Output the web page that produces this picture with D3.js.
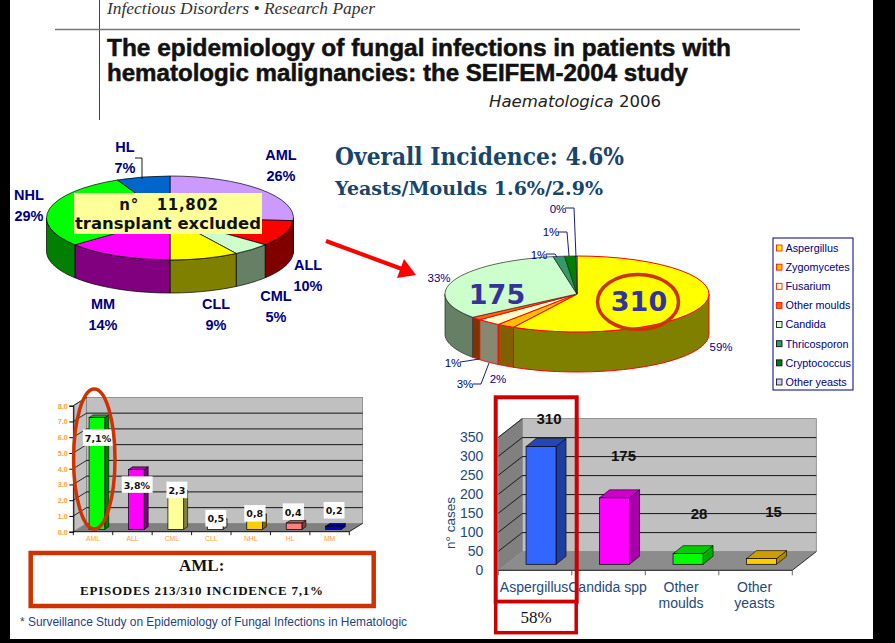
<!DOCTYPE html>
<html>
<head>
<meta charset="utf-8">
<title>SEIFEM-2004</title>
<script src="https://cdn.jsdelivr.net/npm/d3@7"></script>
<style>
  html, body { margin: 0; padding: 0; background: #fff; }
  svg { display: block; }
  text { font-family: "Liberation Sans", sans-serif; }
</style>
</head>
<body>
<svg id="chart" width="895" height="643"></svg>
<script>
// left pie: haematologic malignancies
var malignancies = ['AML', 'ALL', 'CML', 'CLL', 'MM', 'NHL', 'HL'];
var malignancyShare = [26, 10, 5, 9, 14, 29, 7];
var malignancyTop = ['#cc99ff', '#ff0000', '#ccffcc', '#ffff00', '#ff00ff', '#00ff00', '#0066cc'];
var malignancySide = ['#664d80', '#800000', '#668066', '#808000', '#800080', '#008000', '#003366'];

// right pie: fungal agents (drawn shares, printed labels separate)
var agents = ['Aspergillus', 'Zygomycetes', 'Fusarium', 'Other moulds', 'Candida', 'Thricosporon', 'Cryptococcus', 'Other yeasts'];
var agentShare = [58, 2.2, 3, 1.3, 32.6, 1.4, 1.4, 0.1];
var agentLabels = ['59%', '2%', '3%', '1%', '33%', '1%', '1%', '0%'];
var agentTop = ['#ffff00', '#ffc000', '#ffffcc', '#ff6600', '#ccffcc', '#339966', '#008000', '#ccccff'];
var agentSide = ['#808000', '#806000', '#888870', '#803300', '#668066', '#1a4d33', '#004000', '#666680'];

// left bars: incidence by malignancy
var incidenceCats = ['AML', 'ALL', 'CML', 'CLL', 'NHL', 'HL', 'MM'];
var incidenceVals = [7.1, 3.8, 2.3, 0.5, 0.8, 0.4, 0.2];
var incidenceText = ['7,1%', '3,8%', '2,3', '0,5', '0,8', '0,4', '0,2'];
var incidenceFront = ['#00ff00', '#ff00ff', '#ffff99', '#ffffff', '#ffcc00', '#ff8080', '#0000cc'];
var incidenceSide = ['#008000', '#800080', '#808040', '#808080', '#806600', '#804040', '#000080'];
var incidenceLid = ['#00b300', '#b300b3', '#cccc66', '#cccccc', '#cc9900', '#b35959', '#000099'];
var incidenceTicks = [0, 1, 2, 3, 4, 5, 6, 7, 8];

// right bars: number of cases
var caseCats = [['Aspergillus'], ['Candida spp'], ['Other', 'moulds'], ['Other', 'yeasts']];
var caseVals = [310, 175, 28, 15];
var caseFront = ['#3366ff', '#ff00ff', '#00ff00', '#ffcc00'];
var caseSide = ['#1f3fa0', '#a800a8', '#00aa00', '#aa8800'];
var caseLid = ['#2346b8', '#cc00cc', '#00cc00', '#cc9f00'];
var caseTicks = [0, 50, 100, 150, 200, 250, 300, 350];

var svg = d3.select('#chart');
var NAVY = '#000080';
var RING = '#cc3300';

function addText(parent, x, y, str, font) {
  var t = parent.append('text').attr('x', x).attr('y', y).text(str);
  Object.keys(font).forEach(function(k) {
    t.attr(k, font[k]);
  });
  return t;
}

function elbow(parent, pts) {
  parent.append('path')
    .attr('d', d3.line()(pts))
    .attr('fill', 'none')
    .attr('stroke', NAVY)
    .attr('stroke-width', 0.9);
}

function pie3d(o) {
  var g = svg.append('g');
  var arcs = d3.pie().sort(null)(o.values);
  var ky = o.ry / o.rx;
  var x = function(a) { return o.cx + o.rx * Math.sin(a); };
  var y = function(a) { return o.cy - o.ry * Math.cos(a); };

  // walls, only the near half of the rim shows
  arcs.forEach(function(d, i) {
    var a0 = Math.max(d.startAngle, Math.PI / 2);
    var a1 = Math.min(d.endAngle, Math.PI * 1.5);
    if (a1 <= a0) return;
    var steps = d3.range(0, 25).map(function(k) { return a0 + (a1 - a0) * k / 24; });
    var rim = steps.map(function(a) { return [x(a), y(a)]; });
    var low = steps.slice().reverse().map(function(a) { return [x(a), y(a) + o.depth]; });
    g.append('path')
      .attr('d', d3.line()(rim.concat(low)) + 'Z')
      .attr('fill', o.side[i])
      .attr('stroke', o.stroke(i))
      .attr('stroke-width', o.strokeWidth(i));
  });

  var arc = d3.arc().innerRadius(0).outerRadius(o.rx);
  g.append('g')
    .attr('transform', 'translate(' + o.cx + ',' + o.cy + ') scale(1,' + ky + ')')
    .selectAll('path')
    .data(arcs)
    .enter().append('path')
    .attr('d', arc)
    .attr('fill', function(d, i) { return o.top[i]; })
    .attr('stroke', function(d, i) { return o.stroke(i); })
    .attr('stroke-width', function(d, i) { return o.strokeWidth(i); })
    .attr('vector-effect', 'non-scaling-stroke');
}

function bars3d(o) {
  var g = svg.append('g');
  var x = d3.scaleBand().domain(d3.range(o.values.length)).range(o.xRange);
  var y = d3.scaleLinear().domain(o.yDomain).range(o.yRange);
  var y0 = o.yRange[0];
  var xa = o.xRange[0], xb = o.xRange[1];
  var d = o.wall;

  // side wall, back wall, floor
  g.append('path')
    .attr('d', d3.line()([[xa, y0], [xa + d.dx, y0 + d.dy], [xa + d.dx, o.yRange[1] + d.dy], [xa, o.yRange[1]]]) + 'Z')
    .attr('fill', o.sideWall).attr('stroke', '#808080').attr('stroke-width', 0.8);
  g.append('rect')
    .attr('x', xa + d.dx).attr('y', o.yRange[1] + d.dy)
    .attr('width', xb - xa).attr('height', y0 - o.yRange[1])
    .attr('fill', '#c0c0c0').attr('stroke', '#808080').attr('stroke-width', 0.8);

  var grid = o.ticks.filter(function(t) { return t > 0 && t < o.yDomain[1]; });
  g.selectAll('.back').data(grid).enter().append('line')
    .attr('x1', xa + d.dx).attr('x2', xb + d.dx)
    .attr('y1', function(t) { return y(t) + d.dy; })
    .attr('y2', function(t) { return y(t) + d.dy; })
    .attr('stroke', '#000').attr('stroke-width', 0.9);
  g.selectAll('.diag').data(grid.concat([o.yDomain[1]])).enter().append('line')
    .attr('x1', xa).attr('x2', xa + d.dx)
    .attr('y1', function(t) { return y(t); })
    .attr('y2', function(t) { return y(t) + d.dy; })
    .attr('stroke', '#000').attr('stroke-width', 0.8);

  g.append('path')
    .attr('d', d3.line()([[xa, y0], [xb, y0], [xb + d.dx, y0 + d.dy], [xa + d.dx, y0 + d.dy]]) + 'Z')
    .attr('fill', o.floor);

  // axes
  var yAxis = d3.axisLeft(y).tickValues(o.ticks).tickFormat(o.tickFormat)
    .tickSize(o.tickLen).tickPadding(o.tickPad);
  var ya = g.append('g').attr('transform', 'translate(' + xa + ',0)').call(yAxis);
  ya.select('.domain').attr('stroke', o.axisLine ? '#000' : 'none');
  ya.selectAll('text').attr('fill', o.tickFill).attr('font-size', o.tickSizePx)
    .attr('font-weight', o.tickWeight).attr('font-family', '"Liberation Sans", sans-serif');

  g.append('line').attr('x1', xa).attr('x2', xb).attr('y1', y0).attr('y2', y0)
    .attr('stroke', '#000').attr('stroke-width', 0.9);
  g.append('line').attr('x1', xb).attr('x2', xb + d.dx).attr('y1', y0).attr('y2', y0 + d.dy)
    .attr('stroke', '#000').attr('stroke-width', 0.8);
  g.selectAll('.xt').data(d3.range(o.values.length + 1)).enter().append('line')
    .attr('x1', function(i) { return xa + i * x.step(); })
    .attr('x2', function(i) { return xa + i * x.step(); })
    .attr('y1', y0).attr('y2', y0 + o.xTick)
    .attr('stroke', o.xTickColor).attr('stroke-width', 0.9);

  // boxes
  var b = o.bar;
  o.values.forEach(function(v, i) {
    var left = x(i) + x.bandwidth() / 2 - b.w / 2 + b.sx;
    var base = y0 + b.sy;
    var top = y(v) + b.sy;
    var right = left + b.w;
    g.append('path')
      .attr('d', d3.line()([[right, top], [right + b.dx, top + b.dy], [right + b.dx, base + b.dy], [right, base]]) + 'Z')
      .attr('fill', o.side[i]).attr('stroke', '#000').attr('stroke-width', 0.6);
    g.append('path')
      .attr('d', d3.line()([[left, top], [right, top], [right + b.dx, top + b.dy], [left + b.dx, top + b.dy]]) + 'Z')
      .attr('fill', o.lid[i]).attr('stroke', '#000').attr('stroke-width', 0.6);
    g.append('rect')
      .attr('x', left).attr('y', top).attr('width', b.w).attr('height', base - top)
      .attr('fill', o.front[i]).attr('stroke', '#000').attr('stroke-width', 0.7);
  });

  return { g: g, x: x, y: y };
}

// frame of the photographed slide
svg.append('rect').attr('width', 895).attr('height', 643).attr('fill', '#000');
svg.append('rect').attr('x', 10).attr('y', 0).attr('width', 863).attr('height', 639).attr('fill', '#fff');

// article header
svg.append('line').attr('x1', 99.5).attr('x2', 99.5).attr('y1', 0).attr('y2', 120).attr('stroke', '#444').attr('stroke-width', 1);
svg.append('line').attr('x1', 55).attr('x2', 800).attr('y1', 29.5).attr('y2', 29.5).attr('stroke', '#777').attr('stroke-width', 1.6);
addText(svg, 107, 14, 'Infectious Disorders \u2022 Research Paper', {
  'font-style': 'italic', 'font-size': 16, fill: '#333', style: 'font-family:"Liberation Serif",serif',
  textLength: 268, lengthAdjust: 'spacingAndGlyphs'
});
addText(svg, 107, 56, 'The epidemiology of fungal infections in patients with', {
  'font-weight': 'bold', 'font-size': 23, fill: '#111', stroke: '#111', 'stroke-width': 0.5,
  textLength: 624, lengthAdjust: 'spacingAndGlyphs'
});
addText(svg, 107, 81, 'hematologic malignancies: the SEIFEM-2004 study', {
  'font-weight': 'bold', 'font-size': 23, fill: '#111', stroke: '#111', 'stroke-width': 0.5,
  textLength: 581, lengthAdjust: 'spacingAndGlyphs'
});
var hae = addText(svg, 489, 107, '', {
  'font-size': 15.5, fill: '#222', style: 'font-family:"DejaVu Sans",sans-serif',
  textLength: 172, lengthAdjust: 'spacingAndGlyphs'
});
hae.append('tspan').attr('font-style', 'italic').text('Haematologica');
hae.append('tspan').text(' 2006');

addText(svg, 335, 165, 'Overall Incidence: 4.6%', {
  'font-weight': 'bold', 'font-size': 25, fill: '#17456b', style: 'font-family:"DejaVu Serif",serif',
  textLength: 289, lengthAdjust: 'spacingAndGlyphs'
});
addText(svg, 335, 195, 'Yeasts/Moulds 1.6%/2.9%', {
  'font-weight': 'bold', 'font-size': 19, fill: '#17456b', style: 'font-family:"DejaVu Serif",serif',
  textLength: 268, lengthAdjust: 'spacingAndGlyphs'
});

// left pie
pie3d({
  cx: 170, cy: 218, rx: 123.5, ry: 42, depth: 33,
  values: malignancyShare, top: malignancyTop, side: malignancySide,
  stroke: function() { return '#000'; },
  strokeWidth: function() { return 0.7; }
});

var leftLabelX = [281, 308, 276, 216, 103, 29, 125];
var leftLabelY = [160, 270, 301, 309, 309, 200, 152];
malignancies.forEach(function(m, i) {
  var font = { 'font-weight': 'bold', 'font-size': 14.5, fill: NAVY, 'text-anchor': 'middle' };
  addText(svg, leftLabelX[i], leftLabelY[i], m, font);
  addText(svg, leftLabelX[i], leftLabelY[i] + 20.5, malignancyShare[i] + '%', font);
});
svg.append('path').attr('d', d3.line()([[135, 158], [142, 158], [142, 179]]))
  .attr('fill', 'none').attr('stroke', '#000').attr('stroke-width', 0.9);

svg.append('rect').attr('x', 74).attr('y', 193).attr('width', 188).attr('height', 41).attr('fill', '#ffff99');
addText(svg, 169, 210, 'n\u00b0   11,802', {
  'font-weight': 'bold', 'font-size': 15, fill: '#111', 'text-anchor': 'middle',
  style: 'font-family:"DejaVu Sans",sans-serif;white-space:pre', 'letter-spacing': 0.7
});
addText(svg, 75, 229, 'transplant excluded', {
  'font-weight': 'bold', 'font-size': 15, fill: '#111', style: 'font-family:"DejaVu Sans",sans-serif',
  textLength: 186, lengthAdjust: 'spacingAndGlyphs'
});

// arrow between the pies
svg.append('line').attr('x1', 326).attr('y1', 241).attr('x2', 402).attr('y2', 269)
  .attr('stroke', '#ff0000').attr('stroke-width', 4);
svg.append('path').attr('d', d3.line()([[416, 275], [397, 278], [404, 259]]) + 'Z').attr('fill', '#ff0000');

// right pie
pie3d({
  cx: 577, cy: 294, rx: 132, ry: 38, depth: 40,
  values: agentShare, top: agentTop, side: agentSide,
  stroke: function(i) { return i < 4 ? '#ff0000' : '#222'; },
  strokeWidth: function(i) { return i < 4 ? 1 : 0.7; }
});

addText(svg, 497, 304, '175', { 'font-weight': 'bold', 'font-size': 27, fill: '#333399', 'text-anchor': 'middle', style: 'font-family:"DejaVu Sans",sans-serif' });
svg.append('ellipse').attr('cx', 638).attr('cy', 302).attr('rx', 40.5).attr('ry', 27.5)
  .attr('fill', 'none').attr('stroke', RING).attr('stroke-width', 3.5);
addText(svg, 639, 311, '310', { 'font-weight': 'bold', 'font-size': 27, fill: '#333399', 'text-anchor': 'middle', style: 'font-family:"DejaVu Sans",sans-serif' });

var agentLabelX = [721, 498, 465, 453, 439, 539, 551, 558];
var agentLabelY = [351, 383, 388, 367, 282, 259, 236, 213];
agentLabels.forEach(function(s, i) {
  addText(svg, agentLabelX[i], agentLabelY[i], s, { 'font-size': 11.5, fill: NAVY, 'text-anchor': 'middle' });
});
elbow(svg, [[460, 362], [467, 361], [479, 359]]);
elbow(svg, [[473, 384], [481, 384], [489, 363]]);
elbow(svg, [[546, 254], [555, 254], [557, 257]]);
elbow(svg, [[558, 232], [567, 232], [569, 256]]);
elbow(svg, [[565, 208], [574, 208], [576, 257]]);

// legend
svg.append('rect').attr('x', 773).attr('y', 238).attr('width', 80).attr('height', 152)
  .attr('fill', '#fff').attr('stroke', NAVY).attr('stroke-width', 1);
var legendY = d3.scalePoint().domain(agents).range([248, 382]);
agents.forEach(function(name, i) {
  svg.append('rect').attr('x', 776.5).attr('y', legendY(name) - 3).attr('width', 5.5).attr('height', 6)
    .attr('fill', agentTop[i]).attr('stroke', i < 4 ? '#ff0000' : '#000').attr('stroke-width', 0.8);
  addText(svg, 785.5, legendY(name) + 3.8, name, { 'font-size': 10.8, fill: NAVY });
});

// left bars
var left = bars3d({
  values: incidenceVals, front: incidenceFront, side: incidenceSide, lid: incidenceLid,
  xRange: [73.3, 349.3], yRange: [531.7, 405.7], yDomain: [0, 8], ticks: incidenceTicks,
  tickFormat: d3.format('.1f'), tickLen: 4, tickPad: 1.5, axisLine: true,
  tickFill: '#ffa030', tickSizePx: 7.2, tickWeight: 'bold',
  wall: { dx: 13.3, dy: -8.3 }, sideWall: '#c0c0c0', floor: '#808080',
  xTick: 3.5, xTickColor: '#000',
  bar: { w: 15.7, dx: 4, dy: -2.7, sx: 3.9, sy: -2.3 }
});
incidenceCats.forEach(function(c, i) {
  addText(left.g, left.x(i) + left.x.bandwidth() / 2, 540.7, c, { 'font-size': 6.8, fill: '#ffa030', 'text-anchor': 'middle' });
});
// data labels sit off their bars in the original
var leftNudgeX = [5, 4.5, 5, 4.5, 4, 3, 4.5];
var leftNudgeY = [21.8, 16.8, -1.5, -1.5, -1.7, -9.7, -14.2];
incidenceVals.forEach(function(v, i) {
  var lx = left.x(i) + left.x.bandwidth() / 2 + leftNudgeX[i];
  var ly = left.y(v) + leftNudgeY[i];
  var box = left.g.append('rect').attr('fill', '#fff');
  var t = addText(left.g, lx, ly, incidenceText[i], {
    'font-weight': 'bold', 'font-size': 9.5, fill: '#111', 'text-anchor': 'middle',
    style: 'font-family:"DejaVu Sans",sans-serif'
  });
  var bb = t.node().getBBox();
  box.attr('x', bb.x - 2).attr('y', ly - 12.3).attr('width', bb.width + 4).attr('height', 16.5);
});

svg.append('ellipse').attr('cx', 94.3).attr('cy', 459).attr('rx', 20.7).attr('ry', 70)
  .attr('fill', 'none').attr('stroke', RING).attr('stroke-width', 3.5);

// AML box
svg.append('rect').attr('x', 30.7).attr('y', 553).attr('width', 343).attr('height', 53)
  .attr('fill', '#fff').attr('stroke', RING).attr('stroke-width', 4.5);
addText(svg, 201.7, 571, 'AML:', {
  'font-weight': 'bold', 'font-size': 17, fill: '#111', 'text-anchor': 'middle', style: 'font-family:"Liberation Serif",serif'
});
addText(svg, 80, 595, 'EPISODES 213/310 INCIDENCE 7,1%', {
  'font-weight': 'bold', 'font-size': 13, fill: '#111', style: 'font-family:"Liberation Serif",serif',
  textLength: 243, lengthAdjust: 'spacing'
});
addText(svg, 20, 626, '* Surveillance Study on Epidemiology of Fungal Infections in Hematologic', {
  'font-size': 12, fill: '#1f3f7f', textLength: 387, lengthAdjust: 'spacingAndGlyphs'
});

// right bars
var right = bars3d({
  values: caseVals, front: caseFront, side: caseSide, lid: caseLid,
  xRange: [498.3, 792.3], yRange: [570.3, 437.3], yDomain: [0, 350], ticks: caseTicks,
  tickFormat: d3.format('d'), tickLen: 0, tickPad: 15, axisLine: false,
  tickFill: '#1f497d', tickSizePx: 14, tickWeight: 'normal',
  wall: { dx: 24, dy: -18.7 }, sideWall: '#808080', floor: '#8c8c8c',
  xTick: 5, xTickColor: '#555',
  bar: { w: 30, dx: 10, dy: -8, sx: 6, sy: -6 }
});
caseCats.forEach(function(lines, i) {
  lines.forEach(function(s, k) {
    addText(right.g, right.x(i) + right.x.bandwidth() / 2 - 1, 592 + k * 15.5, s, {
      'font-size': 14, fill: '#1f497d', 'text-anchor': 'middle'
    });
  });
});
var rightNudgeX = [14, 15, 17, 18];
var rightNudgeY = [-28.5, -42.8, -40.7, -47.3];
caseVals.forEach(function(v, i) {
  addText(right.g, right.x(i) + right.x.bandwidth() / 2 + rightNudgeX[i], right.y(v) + rightNudgeY[i], v, {
    'font-weight': 'bold', 'font-size': 15, fill: '#111', 'text-anchor': 'middle'
  });
});
addText(svg, 0, 0, 'n\u00b0 cases', { 'font-size': 13.5, fill: '#1f497d', 'text-anchor': 'middle', transform: 'translate(455,523) rotate(-90)' });

svg.append('rect').attr('x', 495.7).attr('y', 397.3).attr('width', 81).attr('height', 204.4)
  .attr('fill', 'none').attr('stroke', '#cc0000').attr('stroke-width', 4);
svg.append('rect').attr('x', 495.7).attr('y', 601.7).attr('width', 80.5).attr('height', 31)
  .attr('fill', '#fff').attr('stroke', '#cc0000').attr('stroke-width', 3.5);
addText(svg, 536, 623, '58%', { 'font-size': 17, fill: '#111', 'text-anchor': 'middle', style: 'font-family:"Liberation Serif",serif' });
</script>
</body>
</html>
